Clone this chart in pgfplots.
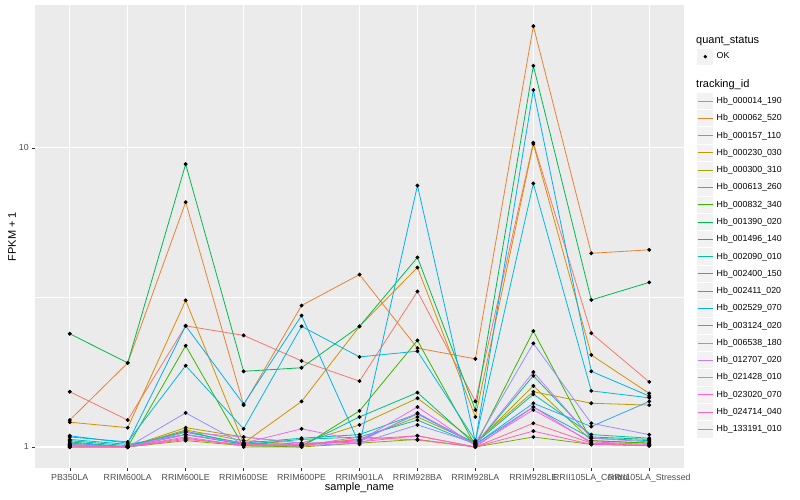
\documentclass[border=0pt]{standalone}
\usepackage{pgfplots}
\pgfplotsset{compat=1.18}
\usepackage{fontspec}
\setmainfont{Liberation Sans}
\definecolor{c1}{HTML}{F8766D}
\definecolor{c2}{HTML}{EA8331}
\definecolor{c3}{HTML}{D89000}
\definecolor{c4}{HTML}{C09B00}
\definecolor{c5}{HTML}{A3A500}
\definecolor{c6}{HTML}{7CAE00}
\definecolor{c7}{HTML}{39B600}
\definecolor{c8}{HTML}{00BB4E}
\definecolor{c9}{HTML}{00BF7D}
\definecolor{c10}{HTML}{00C1A3}
\definecolor{c11}{HTML}{00BFC4}
\definecolor{c12}{HTML}{00BAE0}
\definecolor{c13}{HTML}{00B0F6}
\definecolor{c14}{HTML}{35A2FF}
\definecolor{c15}{HTML}{9590FF}
\definecolor{c16}{HTML}{C77CFF}
\definecolor{c17}{HTML}{E76BF3}
\definecolor{c18}{HTML}{FA62DB}
\definecolor{c19}{HTML}{FF62BC}
\definecolor{c20}{HTML}{FF6C91}
\definecolor{gray92}{HTML}{EBEBEB}
\definecolor{gray95}{HTML}{F2F2F2}
\definecolor{gray30}{HTML}{4D4D4D}
\definecolor{gray20}{HTML}{333333}
\begin{document}
\begin{tikzpicture}
\begin{axis}[
  at={(35pt,32pt)}, anchor=south west,
  scale only axis, width=649pt, height=463pt,
  xmin=-0.6, xmax=10.6,
  ymode=log, ymin=0.8506, ymax=30.01,
  xtick={0,1,2,3,4,5,6,7,8,9,10},
  xticklabels={PB350LA,RRIM600LA,RRIM600LE,RRIM600SE,RRIM600PE,RRIM901LA,RRIM928BA,RRIM928LA,RRIM928LE,RRII105LA\_Control,RRII105LA\_Stressed},
  ytick={1,10}, yticklabels={1,10},
  minor ytick={3.16228},
  grid=both,
  major grid style={white, line width=1.07pt},
  minor grid style={white, line width=0.53pt},
  axis line style={draw=none},
  axis background/.style={fill=gray92},
  tick style={gray20, line width=0.5pt},
  major tick length=2.75pt, minor tick length=0pt,
  tick align=outside,
  xtick pos=left, ytick pos=left,
  /pgf/number format/assume math mode=true,
  ticklabel style={font=\fontsize{8.8}{10}\selectfont, text=gray30},
  xlabel={sample\_name}, ylabel={FPKM + 1},
  label style={font=\fontsize{11}{13}\selectfont},
  xlabel style={at={(axis description cs:0.5,-0.0432)}, anchor=center},
  ylabel style={at={(axis description cs:-0.0354,0.5)}, anchor=center},
  set layers, mark layer=axis foreground,
  every axis plot/.append style={line width=0.8pt, mark=*, mark size=1.5pt, mark options={draw=black, fill=black}},
  legend cell align=left,
  legend style={at={(axis description cs:1.01957,0.8112)}, anchor=north west, draw=none, fill=none, inner sep=0pt, outer sep=0pt, row sep=0pt, column sep=2.7pt, font=\fontsize{8.8}{10}\selectfont, nodes={inner sep=0pt, outer sep=0pt}},
  legend image code/.code={\path[draw=none, fill=none] (0pt,-8.64pt) rectangle (17.28pt,8.64pt); \path[fill=gray95, draw=none] (0.5pt,-8.14pt) rectangle (16.78pt,8.14pt); \draw[#1, mark=none] (0.8pt,0pt) -- (16.48pt,0pt);},
]
\addplot[c1] coordinates {(0,1.53) (1,1.23) (2,2.54) (3,2.36) (4,1.94) (5,1.66) (6,3.31) (7,1.42) (8,10.4) (9,2.40) (10,1.65)};
\addlegendentry{Hb\_000014\_190}
\addplot[c2] coordinates {(0,1.23) (1,1.91) (2,6.58) (3,1.38) (4,2.97) (5,3.77) (6,2.14) (7,1.97) (8,25.5) (9,4.44) (10,4.56)};
\addlegendentry{Hb\_000062\_520}
\addplot[c3] coordinates {(0,1.21) (1,1.16) (2,3.09) (3,1.03) (4,1.42) (5,2.53) (6,3.98) (7,1.26) (8,10.3) (9,2.03) (10,1.51)};
\addlegendentry{Hb\_000157\_110}
\addplot[c4] coordinates {(0,1.03) (1,1.00) (2,1.16) (3,1.08) (4,1.03) (5,1.185) (6,1.455) (7,1.04) (8,1.53) (9,1.40) (10,1.38)};
\addlegendentry{Hb\_000230\_030}
\addplot[c5] coordinates {(0,1.02) (1,1.00) (2,1.14) (3,1.05) (4,1.02) (5,1.06) (6,1.26) (7,1.03) (8,1.60) (9,1.05) (10,1.03)};
\addlegendentry{Hb\_000300\_310}
\addplot[c6] coordinates {(0,1.00) (1,1.00) (2,1.05) (3,1.01) (4,1.00) (5,1.03) (6,1.06) (7,1.00) (8,1.08) (9,1.02) (10,1.01)};
\addlegendentry{Hb\_000613\_260}
\addplot[c7] coordinates {(0,1.01) (1,1.00) (2,2.18) (3,1.00) (4,1.00) (5,1.32) (6,2.27) (7,1.01) (8,2.44) (9,1.05) (10,1.03)};
\addlegendentry{Hb\_000832\_340}
\addplot[c8] coordinates {(0,2.39) (1,1.91) (2,8.82) (3,1.79) (4,1.84) (5,2.53) (6,4.30) (7,1.33) (8,18.8) (9,3.10) (10,3.55)};
\addlegendentry{Hb\_001390\_020}
\addplot[c9] coordinates {(0,1.04) (1,1.00) (2,1.13) (3,1.02) (4,1.01) (5,1.26) (6,1.52) (7,1.02) (8,1.73) (9,1.08) (10,1.06)};
\addlegendentry{Hb\_001496\_140}
\addplot[c10] coordinates {(0,1.05) (1,1.01) (2,1.12) (3,1.03) (4,1.07) (5,1.10) (6,1.29) (7,1.03) (8,1.50) (9,1.10) (10,1.07)};
\addlegendentry{Hb\_002090\_010}
\addplot[c11] coordinates {(0,1.06) (1,1.02) (2,1.10) (3,1.02) (4,1.06) (5,1.08) (6,1.23) (7,1.02) (8,1.36) (9,1.07) (10,1.05)};
\addlegendentry{Hb\_002400\_150}
\addplot[c12] coordinates {(0,1.08) (1,1.04) (2,1.87) (3,1.15) (4,2.53) (5,2.00) (6,2.09) (7,1.05) (8,7.6) (9,1.54) (10,1.46)};
\addlegendentry{Hb\_002411\_020}
\addplot[c13] coordinates {(0,1.09) (1,1.03) (2,2.54) (3,1.39) (4,2.75) (5,1.02) (6,7.48) (7,1.04) (8,15.6) (9,1.79) (10,1.48)};
\addlegendentry{Hb\_002529\_070}
\addplot[c14] coordinates {(0,1.03) (1,1.00) (2,1.10) (3,1.03) (4,1.02) (5,1.05) (6,1.29) (7,1.02) (8,1.40) (9,1.17) (10,1.42)};
\addlegendentry{Hb\_003124\_020}
\addplot[c15] coordinates {(0,1.02) (1,1.00) (2,1.30) (3,1.02) (4,1.01) (5,1.03) (6,1.185) (7,1.03) (8,2.22) (9,1.20) (10,1.10)};
\addlegendentry{Hb\_006538\_180}
\addplot[c16] coordinates {(0,1.01) (1,1.00) (2,1.12) (3,1.08) (4,1.03) (5,1.04) (6,1.30) (7,1.02) (8,1.78) (9,1.07) (10,1.04)};
\addlegendentry{Hb\_012707\_020}
\addplot[c17] coordinates {(0,1.01) (1,1.00) (2,1.10) (3,1.03) (4,1.15) (5,1.05) (6,1.36) (7,1.01) (8,1.33) (9,1.04) (10,1.02)};
\addlegendentry{Hb\_021428\_010}
\addplot[c18] coordinates {(0,1.00) (1,1.00) (2,1.08) (3,1.01) (4,1.02) (5,1.04) (6,1.09) (7,1.00) (8,1.36) (9,1.03) (10,1.02)};
\addlegendentry{Hb\_023020\_070}
\addplot[c19] coordinates {(0,1.00) (1,1.00) (2,1.07) (3,1.01) (4,1.01) (5,1.06) (6,1.09) (7,1.00) (8,1.13) (9,1.02) (10,1.01)};
\addlegendentry{Hb\_024714\_040}
\addplot[c20] coordinates {(0,1.00) (1,1.00) (2,1.06) (3,1.02) (4,1.01) (5,1.08) (6,1.055) (7,1.00) (8,1.20) (9,1.03) (10,1.01)};
\addlegendentry{Hb\_133191\_010}
\end{axis}
\begin{axis}[
  at={(35pt,32pt)}, anchor=south west,
  scale only axis, width=649pt, height=463pt,
  hide axis, xmin=0, xmax=1, ymin=0, ymax=1,
  legend cell align=left,
  legend style={at={(axis description cs:1.01957,0.9071)}, anchor=north west, draw=none, fill=none, inner sep=0pt, outer sep=0pt, row sep=0pt, column sep=2.7pt, font=\fontsize{8.8}{10}\selectfont, nodes={inner sep=0pt, outer sep=0pt}},
  legend image code/.code={\path[draw=none, fill=none] (0pt,-8.64pt) rectangle (17.28pt,8.64pt); \path[fill=gray95, draw=none] (0.5pt,-8.14pt) rectangle (16.78pt,8.14pt); \draw[#1] plot coordinates {(8.64pt,0pt)};},
]
\addplot[draw=none, mark=none, forget plot] coordinates {(0,0) (1,1)};
\addlegendimage{only marks, mark=*, mark size=1.5pt, draw=black, fill=black}
\addlegendentry{OK}
\end{axis}
\node[anchor=west, inner sep=0pt, font=\fontsize{11}{13}\selectfont] at (696pt,459.3pt) {quant\_status};
\node[anchor=west, inner sep=0pt, font=\fontsize{11}{13}\selectfont] at (696pt,415.7pt) {tracking\_id};
\pgfresetboundingbox
\useasboundingbox (0,0) rectangle (800pt,500pt);
\end{tikzpicture}
\end{document}
